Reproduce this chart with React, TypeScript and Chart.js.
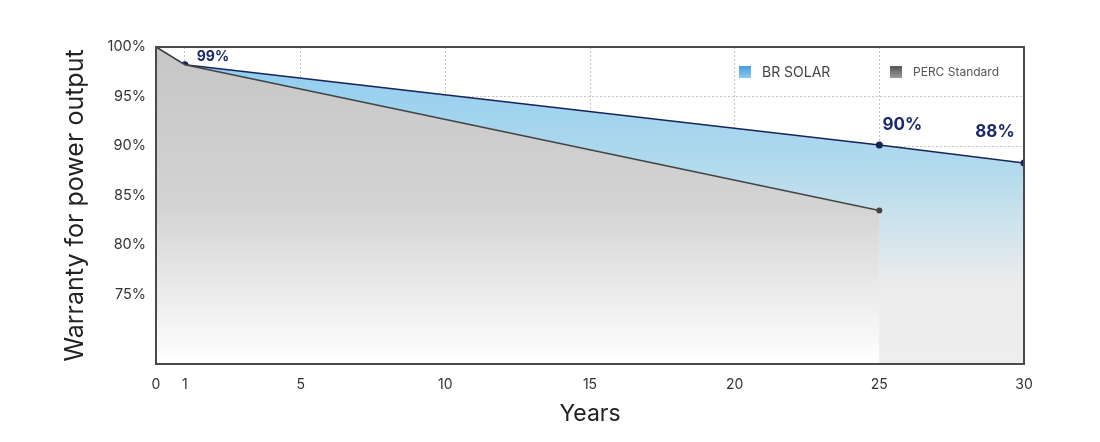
import React, { useEffect, useRef } from "react";
import { Chart, registerables } from "chart.js";

Chart.register(...registerables);

const years = [0, 1, 25, 30];
const brSolar = [100, 98.2, 90.1, 88.3];
const percYears = [0, 1, 25];
const percStandard = [100, 98.2, 83.5];
const xTicks = [0, 1, 5, 10, 15, 20, 25, 30];
const yTicks = [75, 80, 85, 90, 95, 100];
const seriesNames = ["BR SOLAR", "PERC Standard"];
const pointLabels = [
  { year: 1, text: "99%" },
  { year: 25, text: "90%" },
  { year: 30, text: "88%" },
];

const FONT = "Inter, 'Noto Sans', sans-serif";
const labelStyle: Record<number, { dx: number; dy: number; size: number }> = {
  1: { dx: 28, dy: -8, size: 14 },
  25: { dx: 23, dy: -20, size: 17 },
  30: { dx: -29, dy: -31, size: 17 },
};

const overlayPlugin = {
  id: "overlay",
  afterDraw(chart: any) {
    const { ctx, chartArea } = chart;
    const { left, right, top, bottom } = chartArea;
    ctx.save();
    ctx.strokeStyle = "#4a4a4a";
    ctx.lineWidth = 2;
    ctx.strokeRect(left, top, right - left, bottom - top);

    const meta = chart.getDatasetMeta(1);
    pointLabels.forEach((pl) => {
      const idx = years.indexOf(pl.year);
      const el = meta.data[idx];
      if (!el) return;
      const st = labelStyle[pl.year];
      ctx.fillStyle = "#1b2a6b";
      ctx.font = `bold ${st.size}px ${FONT}`;
      ctx.textAlign = "center";
      ctx.textBaseline = "middle";
      ctx.fillText(pl.text, el.x + st.dx, el.y + st.dy);
    });

    const drawItem = (x: number, name: string, c1: string, c2: string, size: number, color: string) => {
      const y = 66;
      const g = ctx.createLinearGradient(0, y, 0, y + 12);
      g.addColorStop(0, c1);
      g.addColorStop(1, c2);
      ctx.fillStyle = g;
      ctx.fillRect(x, y, 12, 12);
      ctx.fillStyle = color;
      ctx.font = `${size}px ${FONT}`;
      ctx.textAlign = "left";
      ctx.textBaseline = "middle";
      ctx.fillText(name, x + 23, y + 6.5);
    };
    drawItem(739, seriesNames[0], "#4b9be0", "#8ccaf0", 14, "#444");
    drawItem(890, seriesNames[1], "#555", "#9a9a9a", 12, "#555");
    ctx.restore();
  },
};

export default function App() {
  const ref = useRef<HTMLCanvasElement>(null);
  useEffect(() => {
    document.body.style.margin = "0";
    const canvas = ref.current!;
    const chart = new Chart(canvas, {
      type: "line",
      data: {
        datasets: [
          {
            label: seriesNames[1],
            data: percYears.map((x, i) => ({ x, y: percStandard[i] })),
            borderColor: "#444",
            borderWidth: 1.5,
            pointRadius: (c: any) => (c.dataIndex === 2 ? 3 : 0),
            pointBackgroundColor: "#444",
            pointBorderWidth: 0,
            fill: "origin",
            backgroundColor: (c: any) => {
              const { ctx, chartArea } = c.chart;
              if (!chartArea) return "#ccc";
              const g = ctx.createLinearGradient(0, chartArea.top, 0, chartArea.bottom);
              g.addColorStop(0, "#c6c6c6");
              g.addColorStop(0.5, "#d3d3d3");
              g.addColorStop(1, "#ffffff");
              return g;
            },
            tension: 0,
          },
          {
            label: seriesNames[0],
            data: years.map((x, i) => ({ x, y: brSolar[i] })),
            borderColor: "#15245a",
            borderWidth: 1.5,
            pointRadius: (c: any) => (c.dataIndex === 0 ? 0 : 3.5),
            pointBackgroundColor: "#15245a",
            pointBorderWidth: 0,
            fill: "origin",
            backgroundColor: (c: any) => {
              const { ctx, chartArea } = c.chart;
              if (!chartArea) return "#9cd";
              const g = ctx.createLinearGradient(0, chartArea.top, 0, chartArea.bottom);
              g.addColorStop(0, "#8ccbef");
              g.addColorStop(0.4, "#b4dbed");
              g.addColorStop(0.75, "#ececec");
              g.addColorStop(1, "#eeeeee");
              return g;
            },
            tension: 0,
          },
        ],
      },
      options: {
        animation: false,
        responsive: false,
        layout: { padding: { top: 47, right: 76, left: 0, bottom: 14 } },
        plugins: { legend: { display: false }, tooltip: { enabled: false } },
        scales: {
          x: {
            type: "linear",
            min: 0,
            max: 30,
            afterBuildTicks: (s: any) => {
              s.ticks = xTicks.map((v) => ({ value: v }));
            },
            afterFit: (s: any) => {
              s.height = 442 - 14 - 364;
            },
            grid: { color: "#c4c4c4", lineWidth: 1, drawTicks: false },
            border: { display: false, dash: [2, 2] },
            ticks: {
              padding: 12,
              color: "#333",
              font: { family: FONT, size: 14 },
              maxRotation: 0,
              autoSkip: false,
            },
            title: {
              display: true,
              text: "Years",
              color: "#222",
              font: { family: FONT, size: 23 },
              padding: { top: 0, bottom: 0 },
            },
          },
          y: {
            type: "linear",
            min: 68,
            max: 100,
            afterBuildTicks: (s: any) => {
              s.ticks = yTicks.map((v) => ({ value: v }));
            },
            afterFit: (s: any) => {
              s.width = 156;
            },
            grid: { color: "#c4c4c4", lineWidth: 1, drawTicks: false },
            border: { display: false, dash: [2, 2] },
            ticks: {
              padding: 10,
              color: "#333",
              font: { family: FONT, size: 14.5 },
              callback: (v: any) => `${v}%`,
            },
            title: {
              display: true,
              text: "Warranty for power output",
              color: "#222",
              font: { family: FONT, size: 25 },
              padding: { top: 60, bottom: 0 },
            },
          },
        },
      },
      plugins: [overlayPlugin],
    } as any);
    return () => chart.destroy();
  }, []);
  return <canvas ref={ref} width={1100} height={442} style={{ display: "block" }} />;
}
